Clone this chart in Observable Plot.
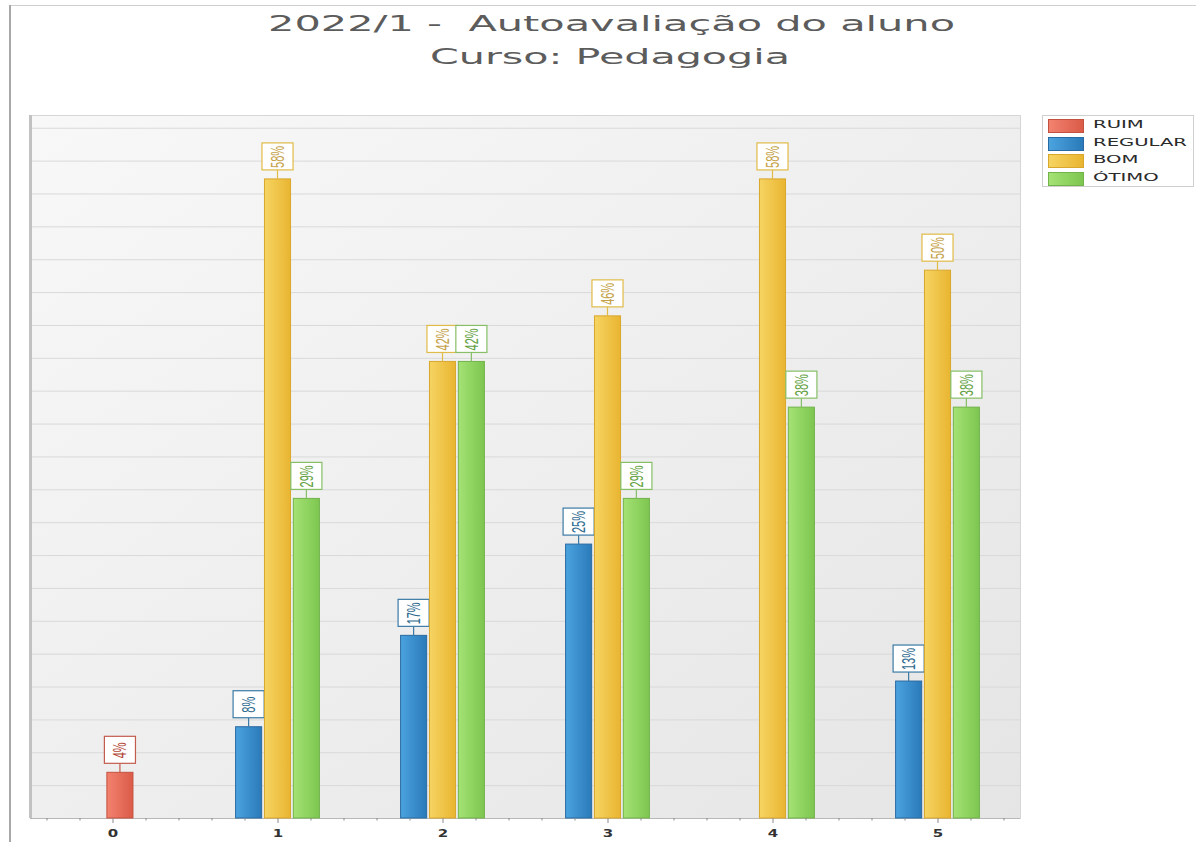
<!DOCTYPE html>
<html><head><meta charset="utf-8">
<script src="https://cdn.jsdelivr.net/npm/d3@7"></script>
<script src="https://cdn.jsdelivr.net/npm/@observablehq/plot@0.6"></script>
<style>
body{margin:0;background:#fff;width:1196px;height:842px;position:relative;overflow:hidden;font-family:"DejaVu Sans",sans-serif}
.deco{position:absolute}
.tl{position:absolute;white-space:nowrap;color:#5c5c5c;font-size:21px;line-height:21px;transform-origin:0 0}
#chart{position:absolute;left:0;top:100px}
#legend{position:absolute;left:1042px;top:115px;width:152px;height:72px;border:1px solid #cfcfcf;background:#fff;box-sizing:border-box}
.lrow{position:absolute;left:5px;height:14px}
.sw{position:absolute;left:0;top:0;width:34px;height:12px;border:1px solid}
.lt{position:absolute;left:45px;top:-1px;font-size:11px;line-height:14px;color:#2a2a2a;white-space:nowrap;transform-origin:0 0}
</style></head>
<body>
<div class="deco" style="left:9px;top:5px;width:1187px;height:1px;background:#cfcfcf"></div>
<div class="deco" style="left:9px;top:5px;width:2px;height:837px;background:#a8a8a8"></div>
<div id="t1" class="tl">2022/1 -&nbsp; Autoavaliação do aluno</div>
<div id="t2" class="tl">Curso: Pedagogia</div>
<div id="chart"></div>
<div id="legend"></div>
<script>
// ---- data ----
const groups = [0, 1, 2, 3, 4, 5];
const series = ["RUIM", "REGULAR", "BOM", "ÓTIMO"];
const ruim    = [4.17, null, null, null, null, null];
const regular = [null, 8.33, 16.67, 25, null, 12.5];
const bom     = [null, 58.33, 41.67, 45.83, 58.33, 50];
const otimo   = [null, 29.17, 41.67, 29.17, 37.5, 37.5];
const gridTicks = d3.range(3, 64, 3);

// ---- styles ----
const values = [ruim, regular, bom, otimo];
const gradLight = ["#f2826f", "#4ba3de", "#f6d462", "#a4e274"];
const gradDark  = ["#da5b48", "#2a7ab9", "#e9b531", "#7dc650"];
const barStroke = ["#c4503f", "#2a6aa2", "#d9a72c", "#72b34b"];
const boxStroke = ["#c25c4e", "#3b7aa6", "#e0bb48", "#86bf66"];
const textColor = ["#b34838", "#2e6a8e", "#c5a24a", "#64a244"];
const seriesOffset = [0.045, -0.175, 0, 0.175];
const half = 0.079;

const table = [];
series.forEach((s, si) => values[si].forEach((v, gi) => {
  if (v != null) table.push({group: groups[gi], series: s, si, value: v});
}));
const yMax = d3.max(table, d => d.value) * 1.1;
const xDomain = [-0.5, 5.5];
const minorTicks = d3.range(-4, 55, 2).map(d => d / 10).filter(d => !groups.includes(d));

const cx = d => d.group + seriesOffset[d.si];
const marks = [
  Plot.frame({fill: "url(#bgGrad)", stroke: "#d6d6d6"}),
  Plot.ruleY(gridTicks, {stroke: "#d9d9d9"}),
  Plot.ruleX([xDomain[0]], {stroke: "#c2c2c2", strokeWidth: 3}),
  Plot.ruleY([0], {stroke: "#b8b8b8"})
];
series.forEach((s, si) => {
  const rows = table.filter(d => d.si === si);
  marks.push(Plot.rect(rows, {x1: d => cx(d) - half, x2: d => cx(d) + half, y1: 0, y2: "value",
    fill: `url(#bar${si})`, stroke: barStroke[si], strokeWidth: 1}));
  marks.push(Plot.rect(rows, {x1: cx, x2: cx, y1: "value", y2: "value",
    insetLeft: -0.6, insetRight: -0.6, insetTop: -9, insetBottom: 0, fill: boxStroke[si]}));
  marks.push(Plot.rect(rows, {x1: d => cx(d) - half, x2: d => cx(d) + half, y1: "value", y2: "value",
    insetLeft: -2.5, insetRight: -2.5, insetTop: -36, insetBottom: 9, fill: "white", stroke: boxStroke[si], strokeWidth: 1.2}));
  marks.push(Plot.text(rows, {x: cx, y: "value", dy: -22.5, text: d => Math.round(d.value) + "%",
    rotate: -90, fill: textColor[si], fontSize: 11, fontFamily: "Liberation Sans"}));
});
marks.push(Plot.axisX({ticks: minorTicks, tickSize: 2.5, tickFormat: () => "", stroke: "#8a8a8a"}));
marks.push(Plot.axisX({ticks: groups, tickSize: 5, tickFormat: () => "", stroke: "#8a8a8a"}));
marks.push(Plot.axisX({ticks: groups, tickSize: 0, tickPadding: 11, tickFormat: d => String(d),
  fontSize: 10, fontWeight: "bold", fill: "#333"}));

const svg = Plot.plot({
  width: 1196, height: 742,
  marginLeft: 30, marginRight: 176, marginTop: 15, marginBottom: 24,
  x: {domain: xDomain, axis: null},
  y: {domain: [0, yMax], axis: null},
  style: {fontFamily: "DejaVu Sans", background: "transparent"},
  marks
});
document.getElementById("chart").append(svg);

const defs = d3.select(svg).insert("defs", ":first-child");
const bg = defs.append("linearGradient").attr("id", "bgGrad").attr("x1", 0).attr("y1", 0).attr("x2", 1).attr("y2", 1);
bg.append("stop").attr("offset", 0).attr("stop-color", "#f8f8f8");
bg.append("stop").attr("offset", 1).attr("stop-color", "#e5e5e5");
series.forEach((s, si) => {
  const g = defs.append("linearGradient").attr("id", `bar${si}`).attr("x1", 0).attr("y1", 0).attr("x2", 1).attr("y2", 0);
  g.append("stop").attr("offset", 0).attr("stop-color", gradLight[si]);
  g.append("stop").attr("offset", 1).attr("stop-color", gradDark[si]);
});
// stretch rotated labels horizontally, like the reference
d3.select(svg).selectAll("text").each(function () {
  const t = this.getAttribute("transform") || "";
  if (t.includes("rotate(-90")) this.setAttribute("transform", t + " scale(1,1.72)");
});
// x tick labels stretched
d3.select(svg).selectAll('g[aria-label="x-axis tick label"] text').each(function () {
  const t = this.getAttribute("transform") || "";
  this.setAttribute("transform", t + " scale(1.5,1)");
});

// ---- title ----
function fit(el, left, top, width) {
  const w = el.getBoundingClientRect().width;
  el.style.left = left + "px";
  el.style.top = top + "px";
  el.style.transform = `scaleX(${width / w})`;
}
fit(document.getElementById("t1"), 268, 14, 687);
fit(document.getElementById("t2"), 430, 47, 360);

// ---- legend ----
const legend = document.getElementById("legend");
const rowTops = [3, 20.5, 38, 55.5];
series.forEach((s, si) => {
  const row = document.createElement("div");
  row.className = "lrow";
  row.style.top = rowTops[si] + "px";
  const sw = document.createElement("div");
  sw.className = "sw";
  sw.style.background = `linear-gradient(90deg, ${gradLight[si]}, ${gradDark[si]})`;
  sw.style.borderColor = barStroke[si];
  const lt = document.createElement("div");
  lt.className = "lt";
  lt.textContent = s;
  row.append(sw, lt);
  legend.append(row);
});
const lts = legend.querySelectorAll(".lt");
const w2 = lts[1].getBoundingClientRect().width;
const lscale = 94 / w2;
lts.forEach(el => el.style.transform = `scaleX(${lscale})`);
</script>
</body></html>
